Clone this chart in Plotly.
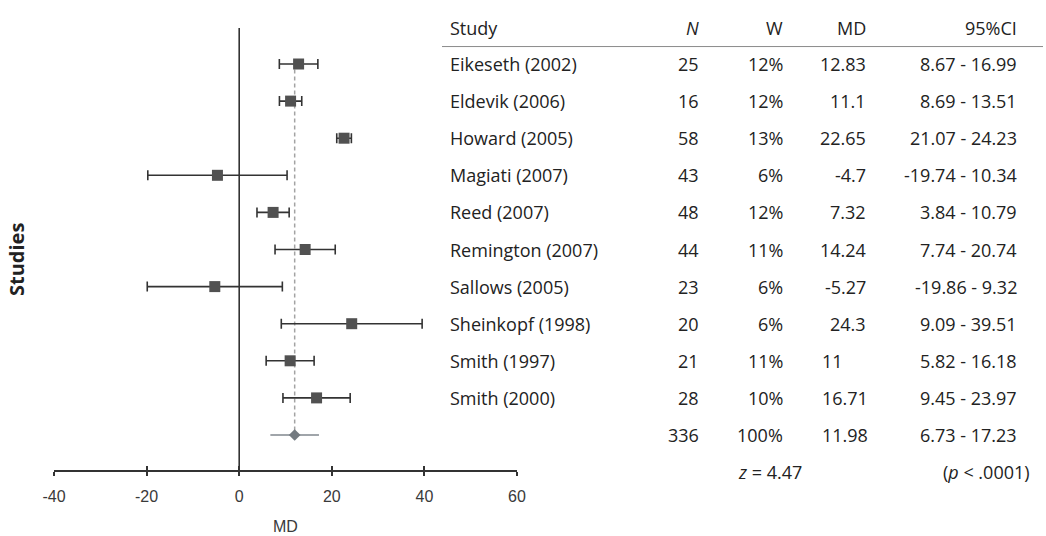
import plotly.graph_objects as go

# ---- data -------------------------------------------------------------
studies = ["Eikeseth (2002)", "Eldevik (2006)", "Howard (2005)", "Magiati (2007)",
           "Reed (2007)", "Remington (2007)", "Sallows (2005)", "Sheinkopf (1998)",
           "Smith (1997)", "Smith (2000)"]
n_obs = [25, 16, 58, 43, 48, 44, 23, 20, 21, 28]
weights = ["12%", "12%", "13%", "6%", "12%", "11%", "6%", "6%", "11%", "10%"]
md = [12.83, 11.1, 22.65, -4.7, 7.32, 14.24, -5.27, 24.3, 11, 16.71]
ci_low = [8.67, 8.69, 21.07, -19.74, 3.84, 7.74, -19.86, 9.09, 5.82, 9.45]
ci_high = [16.99, 13.51, 24.23, 10.34, 10.79, 20.74, 9.32, 39.51, 16.18, 23.97]

total_n = 336
total_w = "100%"
pooled_md = 11.98
pooled_low = 6.73
pooled_high = 17.23
z_text = "<i>z</i> = 4.47"
p_text = "(<i>p</i> < .0001)"

x_ticks = [-40, -20, 0, 20, 40, 60]

# ---- layout constants (pixels) ---------------------------------------
W, H = 1046, 536
ROW0, ROW_STEP = 64, 37.1          # first study row and spacing
AXIS_PX = 471                      # x-axis line position
PLOT_L, PLOT_R = 54, 517           # -40 .. 60

def px_x(p):
    return p / W

def px_y(p):
    return 1 - p / H

y_top = ROW0 / ROW_STEP
y_bot = -(H - ROW0) / ROW_STEP
rows = [-i for i in range(len(studies))]
pooled_row = -len(studies)
z_row = pooled_row - 1
head_row = 0.97

TXT = dict(family="Open Sans, Noto Sans, sans-serif", size=18, color="#222222")
AX_FONT = dict(family="Liberation Sans, Arial, sans-serif", size=16, color="#3a3a3a")

fig = go.Figure()

# pooled estimate reference line (dashed)
fig.add_trace(go.Scatter(
    x=[pooled_md, pooled_md], y=[rows[0] - 0.15, pooled_row],
    mode="lines", line=dict(color="#a3a3a3", width=1.5, dash="4px,3px"),
    hoverinfo="skip", showlegend=False))

# study estimates with confidence intervals
fig.add_trace(go.Scatter(
    x=md, y=rows, mode="markers",
    marker=dict(symbol="square", size=11, color="#515151"),
    error_x=dict(type="data", symmetric=False,
                 array=[h - m for h, m in zip(ci_high, md)],
                 arrayminus=[m - l for m, l in zip(md, ci_low)],
                 color="#333333", thickness=1.6, width=5),
    showlegend=False))

# pooled estimate
fig.add_trace(go.Scatter(
    x=[pooled_md], y=[pooled_row], mode="markers",
    marker=dict(symbol="diamond", size=9, color="#737a80"),
    error_x=dict(type="data", symmetric=False,
                 array=[pooled_high - pooled_md], arrayminus=[pooled_md - pooled_low],
                 color="#a0a5aa", thickness=2, width=0),
    showlegend=False))

shapes = [
    # line of no effect
    dict(type="line", xref="x", yref="paper", x0=0, x1=0,
         y0=px_y(AXIS_PX), y1=px_y(28), line=dict(color="#333333", width=1.6)),
    # table header rule
    dict(type="line", xref="paper", yref="y", x0=px_x(442), x1=px_x(1043),
         y0=head_row - 0.5, y1=head_row - 0.5, line=dict(color="#8a8a8a", width=1)),
]

ann = []

def cell(text, xpx, y, anchor):
    ann.append(dict(text=text, x=px_x(xpx), y=y, xref="paper", yref="y",
                    xanchor=anchor, yanchor="middle", showarrow=False, font=TXT,
                    borderpad=0))

COL_STUDY, COL_N, COL_W, COL_MD, COL_CI = 449, 700, 784, 867, 1018
COL_MD_LEFT = 821

cell("Study", COL_STUDY, head_row, "left")
cell("<i>N</i>", COL_N, head_row, "right")
cell("W", COL_W, head_row, "right")
cell("MD", COL_MD, head_row, "right")
cell("95%CI", COL_CI, head_row, "right")

for i, name in enumerate(studies):
    y = rows[i]
    cell(name, COL_STUDY, y, "left")
    cell(str(n_obs[i]), COL_N, y, "right")
    cell(weights[i], COL_W, y, "right")
    md_txt = f"{md[i]:g}"
    if i >= len(studies) - 2:
        cell(md_txt, COL_MD_LEFT, y, "left")
    else:
        cell(md_txt, COL_MD, y, "right")
    cell(f"{ci_low[i]:g} - {ci_high[i]:g}", COL_CI, y, "right")

cell(str(total_n), COL_N, pooled_row, "right")
cell(total_w, COL_W, pooled_row, "right")
cell(f"{pooled_md:g}", COL_MD_LEFT, pooled_row, "left")
cell(f"{pooled_low:g} - {pooled_high:g}", COL_CI, pooled_row, "right")
cell(z_text, 770, z_row, "center")
cell(p_text, 1031, z_row, "right")

# axis titles
ann.append(dict(text="MD", x=px_x(285), y=px_y(526), xref="paper", yref="paper",
                showarrow=False, xanchor="center", yanchor="middle",
                font=dict(family="Liberation Sans, Arial, sans-serif", size=16, color="#3a3a3a")))
ann.append(dict(text="<b>Studies</b>", x=px_x(16), y=px_y(260), xref="paper", yref="paper",
                showarrow=False, textangle=-90, xanchor="center", yanchor="middle",
                font=dict(family="Open Sans, sans-serif", size=20, color="#222222")))

axis_common = dict(range=[-40, 60], domain=[px_x(PLOT_L), px_x(PLOT_R)],
                   tickvals=x_ticks, showgrid=False, zeroline=False,
                   showline=True, linecolor="#333333", linewidth=1.6,
                   ticklen=4, tickwidth=1.6, tickcolor="#333333",
                   anchor="free", position=px_y(AXIS_PX), automargin=False)

fig.update_layout(
    width=W, height=H, autosize=False,
    margin=dict(l=0, r=0, t=0, b=0, pad=0, autoexpand=False),
    paper_bgcolor="white", plot_bgcolor="rgba(0,0,0,0)",
    showlegend=False,
    xaxis=dict(**axis_common, ticks="outside", tickfont=AX_FONT,
               ticktext=[str(v) for v in x_ticks], ticklabelstandoff=7),
    xaxis2=dict(**axis_common, ticks="inside", showticklabels=False,
                overlaying="x"),
    yaxis=dict(range=[y_bot, y_top], domain=[0, 1], visible=False,
               fixedrange=True, automargin=False),
    shapes=shapes,
    annotations=ann,
)
# invisible trace so the overlaid axis is rendered
fig.add_trace(go.Scatter(x=[0], y=[0], xaxis="x2", mode="markers",
                         marker=dict(opacity=0), hoverinfo="skip", showlegend=False))

fig.write_html("out.html")
